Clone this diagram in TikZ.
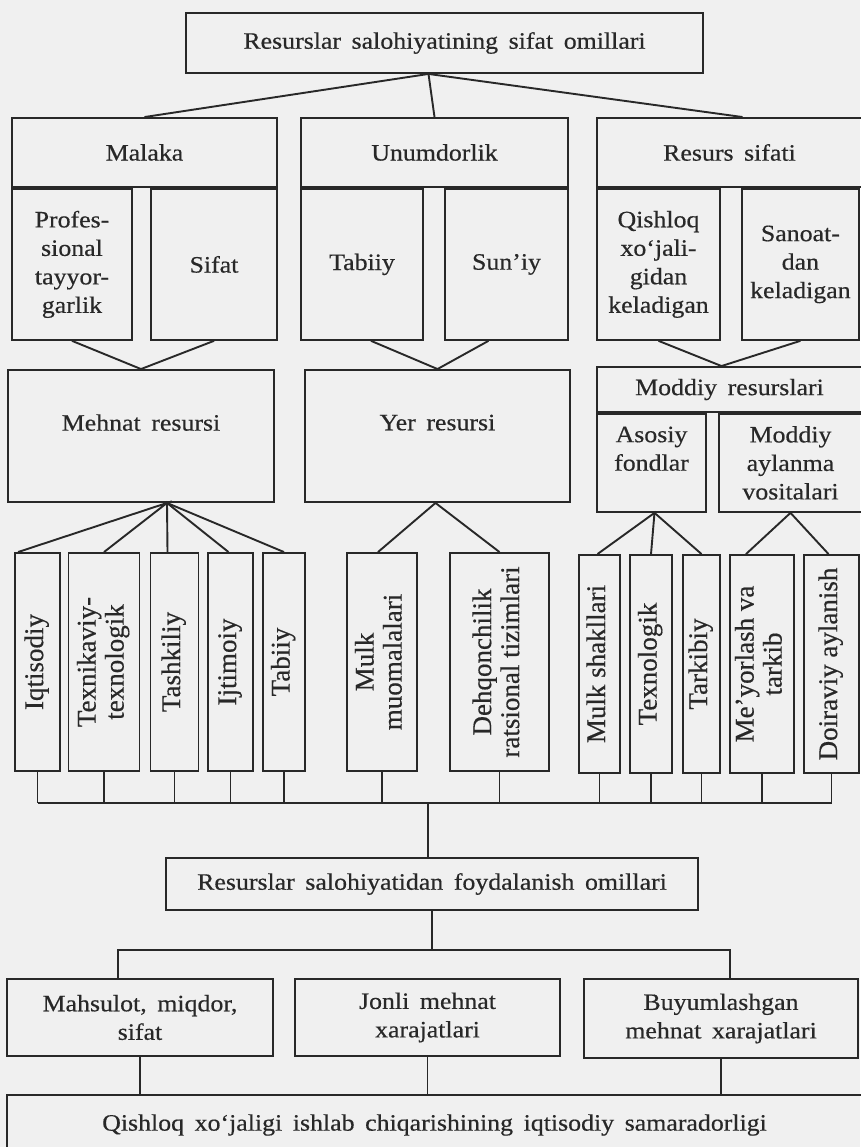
\documentclass[tikz,border=0pt]{standalone}
\usepackage{fontspec}
\usepackage{graphicx}
\setmainfont{Liberation Serif}
\newfontfamily\wideserif{Liberation Serif}[FakeStretch=1.1, FakeBold=0.5]
\newfontfamily\upserif{Liberation Serif}[FakeBold=0.5]
\usetikzlibrary{positioning,calc}

\definecolor{ink}{RGB}{40,40,40}
\definecolor{paper}{RGB}{240,240,240}

\newcommand{\boxfont}{\wideserif\fontsize{23.5}{28.5}\selectfont\spaceskip=0.45em plus 0.1em\relax}
\newcommand{\upfont}{\upserif\fontsize{27}{28}\selectfont}
\newcommand{\uplabel}[1]{\rotatebox{90}{\upfont\begin{tabular}{@{}c@{}}#1\end{tabular}}}

\begin{document}
\begin{tikzpicture}[x=1pt, y=-1pt, color=ink, line width=1.9pt,
        box/.style={draw, inner sep=0pt, align=center, font=\boxfont},
        upbox/.style={draw, inner sep=0pt, minimum height=218}]
    \fill[paper] (0,0) rectangle (860,1147);
    \useasboundingbox (0,0) rectangle (860,1147);

    \node (top) [box, minimum width=517, minimum height=60] at (444.5,43)
        {Resurslar salohiyatining sifat omillari};

    \node (mal) [box, minimum width=265, minimum height=69] at (144.5,152.5) {Malaka};
    \node (unu) [box, minimum width=267, minimum height=69] at (434.5,152.5) {Unumdorlik};
    \node (res) [box, minimum width=265, minimum height=69] at (729.5,152.5) {Resurs sifati};

    \node (prof) [box, minimum width=120, minimum height=151, below right=0pt and 0pt of mal.south west]
        {Profes-\\sional\\tayyor-\\garlik};
    \node (sif)  [box, minimum width=126, minimum height=151, below left=0pt and 0pt of mal.south east] {Sifat};
    \node (tab)  [box, minimum width=122, minimum height=151, below right=0pt and 0pt of unu.south west] {Tabiiy};
    \node (sun)  [box, minimum width=123, minimum height=151, below left=0pt and 0pt of unu.south east] {Sun’iy};
    \node (qish) [box, minimum width=123, minimum height=151, below right=0pt and 0pt of res.south west]
        {Qishloq\\xo‘jali-\\gidan\\keladigan};
    \node (san)  [box, minimum width=117, minimum height=151, below right=0pt and 20pt of qish.north east, anchor=north west]
        {Sanoat-\\dan\\keladigan};

    \node (meh) [box, minimum width=266, minimum height=132, text depth=27pt] at (141,436) {Mehnat resursi};
    \node (yer) [box, minimum width=265, minimum height=132, text depth=27pt] at (437.5,436) {Yer resursi};
    \node (mod) [box, minimum width=265, minimum height=45] at (729.5,389.5) {Moddiy resurslari};
    \node (aso) [box, minimum width=109, minimum height=98, below right=0pt and 0pt of mod.south west]
        {Asosiy\\fondlar\\\mbox{}};
    \node (ayl) [box, minimum width=143, minimum height=98, below left=0pt and 0pt of mod.south east]
        {Moddiy\\aylanma\\vositalari};

    \node (iq)   [upbox, minimum width=45] at (37.5,662)  {\uplabel{Iqtisodiy}};
    \node (tex)  [upbox, minimum width=71] at (104,662)   {\uplabel{Texnikaviy-\\texnologik}};
    \node (tash) [upbox, minimum width=48] at (174.5,662) {\uplabel{Tashkiliy}};
    \node (ijt)  [upbox, minimum width=45] at (230.5,662) {\uplabel{Ijtimoiy}};
    \node (tab2) [upbox, minimum width=42] at (284,662)   {\uplabel{Tabiiy}};
    \node (mulk) [upbox, minimum width=70] at (382,662)   {\uplabel{Mulk\\muomalalari}};
    \node (dehq) [upbox, minimum width=99] at (499.5,662) {\uplabel{Dehqonchilik\\ratsional tizimlari}};
    \node (msh)  [upbox, minimum width=41] at (599.5,664) {\uplabel{Mulk shakllari}};
    \node (texn) [upbox, minimum width=42] at (651,664)   {\uplabel{Texnologik}};
    \node (tark) [upbox, minimum width=37] at (701.5,664) {\uplabel{Tarkibiy}};
    \node (meyo) [upbox, minimum width=64] at (762,664)   {\uplabel{Me’yorlash va\\tarkib}};
    \node (doir) [upbox, minimum width=55] at (831.5,664) {\uplabel{Doiraviy aylanish}};

    \node (use) [box, minimum width=532, minimum height=52] at (432,884)
        {Resurslar salohiyatidan foydalanish omillari};
    \node (mah) [box, minimum width=266, minimum height=77] at (140,1017.5) {Mahsulot, miqdor,\\sifat};
    \node (jon) [box, minimum width=265, minimum height=77] at (427.5,1017.5) {Jonli mehnat\\xarajatlari};
    \node (buy) [box, minimum width=274, minimum height=79] at (721,1018.5) {Buyumlashgan\\mehnat xarajatlari};
    \node (fin) [box, minimum width=855, minimum height=60] at (434.5,1125)
        {Qishloq xo‘jaligi ishlab chiqarishining iqtisodiy samaradorligi};

    \coordinate (apex) at ($(top.south)+(-16,0)$);
    \coordinate (fan) at ($(meh.south)+(26,0)$);
    \coordinate (bus) at (428,803);
    \coordinate (bus2) at (432,950);

    \draw (mal.north) -- (apex) -- ($(res.north)+(13,0)$);
    \draw (apex) -- (unu.north);

    \draw (prof.south) -- (meh.north) -- (sif.south);
    \draw ($(tab.south)+(9,0)$) -- (yer.north) -- ($(sun.south)+(-18,0)$);
    \draw (qish.south) -- ($(mod.north)+(-8,0)$) -- (san.south);

    \draw ($(iq.north west)+(4,0)$) -- (fan) -- (tex.north);
    \draw ($(tash.north)+(-7,0)$) -- (fan) -- ($(ijt.north)+(-2,0)$);
    \draw (fan) -- (tab2.north);
    \draw ($(mulk.north)+(-4,0)$) -- ($(yer.south)+(-2,0)$) -- (dehq.north);
    \draw ($(msh.north)+(-2,0)$) -- ($(aso.south)+(3,0)$) -- (texn.north);
    \draw ($(aso.south)+(3,0)$) -- (tark.north);
    \draw ($(meyo.north)+(-16,0)$) -- (ayl.south) -- ($(doir.north)+(-3,0)$);

    \foreach \n in {iq,tex,tash,ijt,tab2,mulk,dehq,msh,texn,tark,meyo,doir}
        \draw (\n.south) -- (\n.south |- bus);
    \draw (iq.south |- bus) -- (doir.south |- bus);
    \draw (bus) -- (bus |- use.north);

    \draw (use.south) -- (use.south |- bus2);
    \draw ($(mah.north)+(-22,0)$) |- (bus2) -| ($(buy.north)+(9,0)$);
    \draw ($(jon.north)+(-7,0)$) -- ($(jon.north)+(-7,0)$ |- bus2);
    \draw (mah.south) -- (mah.south |- fin.north);
    \draw (jon.south) -- (jon.south |- fin.north);
    \draw (buy.south) -- (buy.south |- fin.north);
\end{tikzpicture}
\end{document}
